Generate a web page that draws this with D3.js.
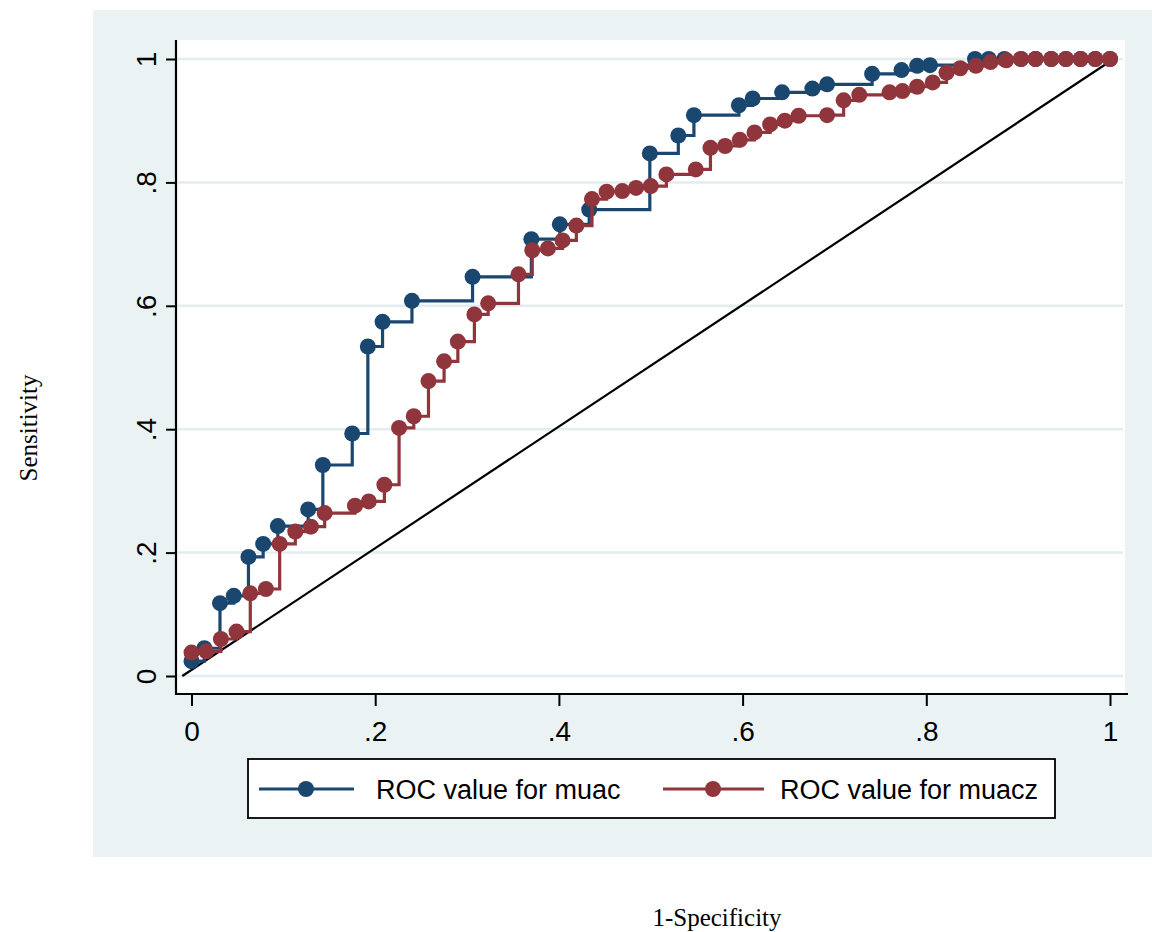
<!DOCTYPE html>
<html>
<head>
<meta charset="utf-8">
<script src="https://cdn.jsdelivr.net/npm/d3@7"></script>
<style>
  html, body { margin: 0; padding: 0; background: #ffffff; }
  svg { display: block; }
</style>
</head>
<body>
<svg id="chart" width="1152" height="932"></svg>
<script>
// ---- Data ----
const muacX = [0, 0.014, 0.031, 0.046, 0.062, 0.078, 0.094, 0.127, 0.143, 0.175, 0.192, 0.208, 0.24, 0.306, 0.37, 0.401, 0.433, 0.499, 0.53, 0.547, 0.596, 0.611, 0.643, 0.676, 0.692, 0.741, 0.773, 0.79, 0.804, 0.853, 0.868, 0.885, 0.903, 0.919, 0.936, 0.952, 0.968, 0.984, 1.0];
const muacY = [0.024, 0.045, 0.118, 0.13, 0.193, 0.214, 0.243, 0.27, 0.342, 0.393, 0.534, 0.574, 0.608, 0.647, 0.708, 0.732, 0.756, 0.847, 0.876, 0.909, 0.925, 0.936, 0.946, 0.952, 0.959, 0.976, 0.982, 0.989, 0.99, 1, 1, 1, 1, 1, 1, 1, 1, 1, 1];

const muaczX = [0, 0.016, 0.032, 0.049, 0.064, 0.081, 0.096, 0.113, 0.13, 0.145, 0.178, 0.193, 0.21, 0.226, 0.242, 0.258, 0.275, 0.29, 0.308, 0.323, 0.356, 0.371, 0.388, 0.404, 0.419, 0.436, 0.452, 0.469, 0.484, 0.5, 0.517, 0.549, 0.565, 0.581, 0.597, 0.613, 0.63, 0.646, 0.661, 0.692, 0.71, 0.727, 0.76, 0.774, 0.79, 0.807, 0.822, 0.837, 0.854, 0.87, 0.887, 0.903, 0.919, 0.936, 0.952, 0.968, 0.984, 1.0];
const muaczY = [0.038, 0.04, 0.06, 0.072, 0.134, 0.141, 0.214, 0.234, 0.242, 0.264, 0.276, 0.283, 0.31, 0.402, 0.421, 0.478, 0.51, 0.542, 0.586, 0.604, 0.651, 0.69, 0.693, 0.706, 0.73, 0.773, 0.785, 0.786, 0.791, 0.794, 0.813, 0.821, 0.856, 0.859, 0.869, 0.881, 0.894, 0.9, 0.908, 0.909, 0.933, 0.942, 0.946, 0.948, 0.955, 0.962, 0.978, 0.985, 0.989, 0.995, 0.998, 1, 1, 1, 1, 1, 1, 1];

const refLineX = [-0.01, 1.008];
const refLineY = [0, 1.004];

const xTicks = [0, 0.2, 0.4, 0.6, 0.8, 1];
const xTickLabels = ["0", ".2", ".4", ".6", ".8", "1"];
const yTicks = [0, 0.2, 0.4, 0.6, 0.8, 1];
const yTickLabels = ["0", ".2", ".4", ".6", ".8", "1"];

const seriesNames = ["ROC value for muac", "ROC value for muacz"];
const xTitle = "1-Specificity";
const yTitle = "Sensitivity";

// ---- Layout ----
const svg = d3.select("#chart");
const W = 1152, H = 932;
const blue = "#1a476f", red = "#90353b";
const sans = "'Liberation Sans', Arial, sans-serif";
const serif = "'Liberation Serif', 'Times New Roman', serif";

const plot = { left: 176, top: 40, right: 1125, bottom: 694 };

const x = d3.scaleLinear().domain([0, 1]).range([191.5, 1110]);
const y = d3.scaleLinear().domain([0, 1]).range([676, 59]);

svg.append("rect").attr("width", W).attr("height", H).attr("fill", "#ffffff");
// graph region
svg.append("rect").attr("x", 93).attr("y", 10).attr("width", W - 93).attr("height", 847)
  .attr("fill", "#eaf2f3");
// plot region
svg.append("rect").attr("x", plot.left).attr("y", plot.top)
  .attr("width", plot.right - plot.left).attr("height", plot.bottom - plot.top)
  .attr("fill", "#ffffff");

// gridlines
svg.append("g").selectAll("line").data(yTicks).join("line")
  .attr("x1", plot.left + 2).attr("x2", plot.right - 2)
  .attr("y1", d => y(d)).attr("y2", d => y(d))
  .attr("stroke", "#e3edef").attr("stroke-width", 2.5);

// reference diagonal
svg.append("line")
  .attr("x1", x(refLineX[0])).attr("y1", y(refLineY[0]))
  .attr("x2", x(refLineX[1])).attr("y2", y(refLineY[1]))
  .attr("stroke", "#000").attr("stroke-width", 2.2);

// series
const step = d3.line().x(d => x(d[0])).y(d => y(d[1])).curve(d3.curveStepAfter);
function drawSeries(xs, ys, color) {
  const pts = xs.map((v, i) => [v, ys[i]]);
  svg.append("path").datum(pts).attr("d", step)
    .attr("fill", "none").attr("stroke", color).attr("stroke-width", 3.2);
  svg.append("g").selectAll("circle").data(pts).join("circle")
    .attr("cx", d => x(d[0])).attr("cy", d => y(d[1])).attr("r", 8)
    .attr("fill", color);
}
drawSeries(muacX, muacY, blue);
drawSeries(muaczX, muaczY, red);

// axes lines
svg.append("line").attr("x1", plot.left).attr("x2", 1128)
  .attr("y1", plot.bottom).attr("y2", plot.bottom)
  .attr("stroke", "#000").attr("stroke-width", 2.2);
svg.append("line").attr("x1", plot.left).attr("x2", plot.left)
  .attr("y1", plot.top).attr("y2", plot.bottom + 1)
  .attr("stroke", "#000").attr("stroke-width", 2.2);

// x axis ticks
const xAxis = d3.axisBottom(x).tickValues(xTicks)
  .tickFormat((d, i) => xTickLabels[i]).tickSize(12).tickPadding(6);
const gx = svg.append("g").attr("transform", `translate(0,${plot.bottom})`).call(xAxis);
gx.select(".domain").remove();
gx.selectAll(".tick line").attr("stroke", "#000").attr("stroke-width", 2);
gx.selectAll(".tick text").attr("font-family", sans).attr("font-size", 28)
  .attr("fill", "#000").attr("y", 47).attr("dy", 0);

// y axis ticks (rotated labels)
const yAxis = d3.axisLeft(y).tickValues(yTicks)
  .tickFormat((d, i) => yTickLabels[i]).tickSize(10);
const gy = svg.append("g").attr("transform", `translate(${plot.left},0)`).call(yAxis);
gy.select(".domain").remove();
gy.selectAll(".tick line").attr("stroke", "#000").attr("stroke-width", 2);
gy.selectAll(".tick text").attr("font-family", sans).attr("font-size", 28)
  .attr("fill", "#000").attr("x", 0).attr("dy", 0)
  .attr("text-anchor", "middle")
  .attr("transform", "translate(-20,0) rotate(-90)");

// axis titles
svg.append("text").attr("transform", `translate(37,428) rotate(-90)`)
  .attr("text-anchor", "middle").attr("font-family", serif).attr("font-size", 25)
  .attr("fill", "#000").text(yTitle);
svg.append("text").attr("x", 717).attr("y", 926)
  .attr("text-anchor", "middle").attr("font-family", serif).attr("font-size", 25)
  .attr("fill", "#000").text(xTitle);

// legend
const lg = svg.append("g");
lg.append("rect").attr("x", 248).attr("y", 759).attr("width", 807).attr("height", 59)
  .attr("fill", "#fff").attr("stroke", "#000").attr("stroke-width", 1.8);
const legendItems = [
  { name: seriesNames[0], color: blue, x1: 259, x2: 354, mx: 306, tx: 376 },
  { name: seriesNames[1], color: red, x1: 663, x2: 764, mx: 713, tx: 780 }
];
legendItems.forEach(it => {
  lg.append("line").attr("x1", it.x1).attr("x2", it.x2).attr("y1", 789).attr("y2", 789)
    .attr("stroke", it.color).attr("stroke-width", 3.2);
  lg.append("circle").attr("cx", it.mx).attr("cy", 789).attr("r", 8).attr("fill", it.color);
  lg.append("text").attr("x", it.tx).attr("y", 799).attr("font-family", sans)
    .attr("font-size", 27).attr("fill", "#000").text(it.name);
});
</script>
</body>
</html>
